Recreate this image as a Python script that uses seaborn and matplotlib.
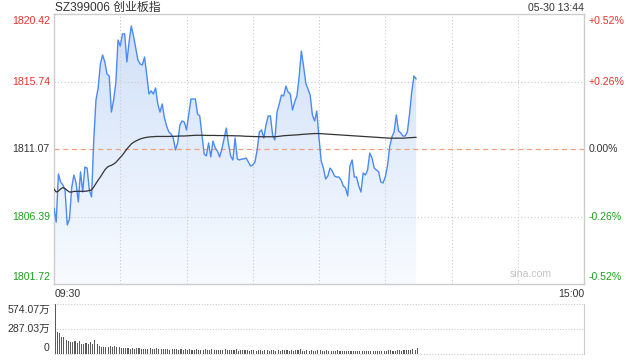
import numpy as np
import pandas as pd
import seaborn as sns
import matplotlib
matplotlib.use("Agg")
import matplotlib.pyplot as plt
from matplotlib.colors import LinearSegmentedColormap

# price (per minute from 09:30), average price and volume (万)
price = [1806.98, 1806.01, 1809.34, 1808.78, 1808.58, 1808.23, 1805.81, 1806.22, 1808.37, 1809.27,
         1808.72, 1807.40, 1809.48, 1808.09, 1809.82, 1809.75, 1808.23, 1807.75, 1811.69, 1814.46,
         1815.30, 1816.96, 1817.58, 1817.10, 1816.26, 1816.13, 1813.63, 1814.46, 1815.64, 1818.62,
         1818.20, 1819.04, 1819.04, 1817.10, 1818.48, 1819.59, 1818.90, 1818.07, 1817.23, 1816.96,
         1816.89, 1817.44, 1816.20, 1814.88, 1815.09, 1814.88, 1815.30, 1814.19, 1813.63, 1814.19,
         1813.22, 1812.66, 1812.25, 1812.11, 1811.83, 1811.00, 1811.49, 1812.73, 1813.01, 1812.94,
         1812.39, 1813.43, 1814.53, 1814.53, 1814.53, 1813.49, 1813.36, 1812.04, 1810.72, 1810.59,
         1811.49, 1810.52, 1811.62, 1811.14, 1810.93, 1810.52, 1811.07, 1811.76, 1812.52, 1811.42,
         1810.59, 1810.31, 1811.83, 1810.38, 1810.31, 1810.38, 1810.38, 1810.45, 1810.17, 1809.89,
         1809.96, 1810.17, 1811.00, 1812.25, 1812.39, 1811.83, 1812.73, 1813.36, 1813.36, 1812.04,
         1811.69, 1813.63, 1814.19, 1814.81, 1814.74, 1815.43, 1815.02, 1814.88, 1813.77, 1814.33,
         1814.74, 1816.06, 1817.86, 1816.82, 1815.64, 1815.23, 1814.81, 1813.43, 1813.01, 1813.70,
         1811.83, 1810.24, 1809.75, 1808.99, 1809.20, 1809.75, 1809.55, 1809.20, 1809.13, 1809.13,
         1808.92, 1808.51, 1808.37, 1807.82, 1809.89, 1810.31, 1809.13, 1809.13, 1808.51, 1808.09,
         1809.41, 1809.27, 1809.62, 1810.79, 1810.45, 1809.75, 1809.62, 1809.48, 1808.78, 1808.72,
         1809.13, 1809.89, 1811.21, 1811.90, 1812.25, 1813.43, 1812.32, 1812.18, 1811.97, 1811.97,
         1812.25, 1813.49, 1815.02, 1816.13, 1815.92]

avg_price = [1808.30, 1808.09, 1808.16, 1808.30, 1808.40, 1808.33, 1808.20, 1808.09, 1808.09, 1808.13,
             1808.14, 1808.14, 1808.14, 1808.14, 1808.14, 1808.16, 1808.20, 1808.23, 1808.44, 1808.68,
             1808.92, 1809.13, 1809.37, 1809.62, 1809.79, 1809.89, 1809.94, 1810.03, 1810.14, 1810.31,
             1810.48, 1810.65, 1810.86, 1811.07, 1811.24, 1811.42, 1811.53, 1811.62, 1811.69, 1811.76,
             1811.81, 1811.85, 1811.88, 1811.90, 1811.92, 1811.92, 1811.94, 1811.94, 1811.94, 1811.94,
             1811.94, 1811.94, 1811.94, 1811.95, 1811.95, 1811.95, 1811.96, 1811.97, 1811.97, 1811.97,
             1811.98, 1811.99, 1812.00, 1812.01, 1812.02, 1812.02, 1812.02, 1812.02, 1812.02, 1812.01,
             1812.01, 1812.01, 1812.01, 1812.01, 1812.00, 1812.00, 1812.00, 1812.00, 1812.00, 1811.99,
             1811.99, 1811.99, 1811.98, 1811.98, 1811.98, 1811.97, 1811.96, 1811.95, 1811.95, 1811.94,
             1811.94, 1811.93, 1811.93, 1811.92, 1811.92, 1811.92, 1811.92, 1811.92, 1811.92, 1811.92,
             1811.92, 1811.93, 1811.95, 1811.97, 1811.99, 1812.00, 1812.01, 1812.02, 1812.03, 1812.04,
             1812.05, 1812.06, 1812.08, 1812.09, 1812.10, 1812.11, 1812.12, 1812.13, 1812.14, 1812.14,
             1812.14, 1812.13, 1812.12, 1812.11, 1812.10, 1812.09, 1812.08, 1812.07, 1812.06, 1812.05,
             1812.04, 1812.03, 1812.02, 1812.01, 1812.00, 1811.99, 1811.98, 1811.97, 1811.96, 1811.95,
             1811.94, 1811.93, 1811.92, 1811.91, 1811.90, 1811.89, 1811.88, 1811.87, 1811.86, 1811.85,
             1811.84, 1811.83, 1811.82, 1811.82, 1811.82, 1811.82, 1811.82, 1811.82, 1811.82, 1811.83,
             1811.84, 1811.85, 1811.86, 1811.87, 1811.88]

volume = [574.07, 256, 245, 192, 198, 160, 146, 138, 140, 146,
          128, 146, 118, 112, 125, 120, 135, 110, 160, 118,
          92, 85, 84, 80, 84, 92, 78, 96, 80, 84,
          70, 74, 66, 72, 62, 70, 60, 64, 66, 58,
          62, 60, 56, 64, 60, 58, 66, 54, 58, 52,
          60, 54, 50, 56, 52, 62, 48, 54, 50, 56,
          48, 52, 46, 50, 56, 44, 50, 46, 52, 48,
          44, 54, 46, 42, 50, 44, 48, 58, 46, 42,
          44, 48, 52, 40, 46, 42, 48, 44, 40, 46,
          42, 38, 44, 48, 40, 44, 50, 38, 42, 46,
          40, 44, 38, 46, 50, 42, 40, 44, 36, 42,
          46, 52, 40, 38, 44, 36, 42, 40, 38, 44,
          46, 40, 36, 42, 38, 34, 40, 36, 42, 38,
          34, 38, 36, 32, 40, 36, 34, 30, 38, 34,
          32, 36, 40, 34, 38, 32, 36, 40, 34, 38,
          36, 42, 46, 40, 38, 44, 48, 36, 42, 46,
          50, 44, 58, 48, 72]

price_ticks = [1820.42, 1815.74, 1811.07, 1806.39, 1801.72]
pct_ticks = ["+0.52%", "+0.26%", "0.00%", "-0.26%", "-0.52%"]
vol_ticks = [574.07, 287.03, 0]
vol_labels = ["574.07万", "287.03万", "0"]
prev_close = 1811.07

df = pd.DataFrame({"minute": np.arange(len(price)), "price": price,
                   "avg": avg_price, "vol": volume})
df["bar_x"] = df["minute"] + 0.5

RED, GREEN, DARK = "#e8312b", "#1e9e1e", "#333333"
GRID = "#cccccc"

sns.set_style("white")
plt.rcParams["font.family"] = ["Liberation Sans", "Noto Sans CJK SC"]

fig = plt.figure(figsize=(6.4, 3.6), dpi=100)
ax = fig.add_axes([54 / 640, 76 / 360, 530 / 640, 270 / 360])
axv = fig.add_axes([54 / 640, 6 / 360, 530 / 640, 50 / 360])

lo, hi = price_ticks[-1], price_ticks[0]

# gradient fill under the price line
poly = ax.fill_between(df["minute"], df["price"], lo, facecolor="none", edgecolor="none")
cmap = LinearSegmentedColormap.from_list("fill", ["#f8fbff", "#cfdff8"])
grad = np.linspace(0, 1, 256).reshape(-1, 1)
im = ax.imshow(grad, extent=[0, 240, lo, hi], origin="lower", aspect="auto",
               cmap=cmap, zorder=1)
im.set_clip_path(poly.get_paths()[0], transform=ax.transData)

for m in range(30, 240, 30):
    ax.axvline(m, color=GRID, lw=0.8, ls=(0, (1, 2)), zorder=2)
for p in (price_ticks[1], price_ticks[3]):
    ax.axhline(p, color=GRID, lw=0.8, ls=(0, (1, 2)), zorder=2)
ax.axhline(prev_close, color="#f0a07a", lw=0.9, ls=(0, (4, 3)), zorder=2)

sns.lineplot(data=df, x="minute", y="price", ax=ax, color="#4a8af4", linewidth=1.0, zorder=3)
sns.lineplot(data=df, x="minute", y="avg", ax=ax, color=DARK, linewidth=0.9, zorder=4)

ax.set_xlim(0, 240)
ax.set_ylim(lo, hi)
ax.set_xticks([])
ax.set_yticks([])
ax.set_xlabel("")
ax.set_ylabel("")
for s in ax.spines.values():
    s.set_color(GRID)
    s.set_linewidth(1)

label_colors = [RED, RED, DARK, GREEN, GREEN]
for i, (p, pc, c) in enumerate(zip(price_ticks, pct_ticks, label_colors)):
    va = "top" if i == 0 else ("bottom" if i == len(price_ticks) - 1 else "center")
    dy = -1.5 if i == 0 else (1.5 if i == len(price_ticks) - 1 else 0)
    ax.annotate(f"{p:.2f}", xy=(0, p), xycoords=("axes fraction", "data"),
                xytext=(-3, dy), textcoords="offset points", ha="right", va=va,
                color=c, fontsize=7.6)
    ax.annotate(pc, xy=(1, p), xycoords=("axes fraction", "data"),
                xytext=(3.5, dy), textcoords="offset points", ha="left", va=va,
                color=c, fontsize=7.6)

ax.text(0.94, 0.02, "sina.com", transform=ax.transAxes, ha="right", va="bottom",
        color="#c4c4c4", fontsize=7.6)

fig.text(55 / 640, 1 - 8 / 360, "SZ399006 创业板指", ha="left", va="center",
         color=DARK, fontsize=8.6)
fig.text(584 / 640, 1 - 8 / 360, "05-30 13:44", ha="right", va="center",
         color=DARK, fontsize=7.6)
fig.text(55 / 640, 1 - 294 / 360, "09:30", ha="left", va="center", color=DARK, fontsize=7.6)
fig.text(584 / 640, 1 - 294 / 360, "15:00", ha="right", va="center", color=DARK, fontsize=7.6)

# volume panel
sns.barplot(data=df, x="bar_x", y="vol", ax=axv, native_scale=True, color="#5a5a5a",
            width=0.5, errorbar=None, linewidth=0, saturation=1)
axv.set_xlim(0, 240)
axv.set_ylim(0, vol_ticks[0])
axv.set_xticks([])
axv.set_yticks([])
axv.set_xlabel("")
axv.set_ylabel("")
for k in ("left", "top", "bottom"):
    axv.spines[k].set_visible(False)
axv.spines["right"].set_color(GRID)
for v in vol_ticks:
    axv.axhline(v, color=GRID, lw=0.8, ls=(0, (1, 1.5)), clip_on=False, zorder=0)
for i, (v, t) in enumerate(zip(vol_ticks, vol_labels)):
    va = "top" if i == 0 else ("bottom" if i == len(vol_ticks) - 1 else "center")
    dy = -1 if i == 0 else (1 if i == len(vol_ticks) - 1 else 0)
    axv.annotate(t, xy=(0, v), xycoords=("axes fraction", "data"),
                 xytext=(-3, dy), textcoords="offset points", ha="right", va=va,
                 color=DARK, fontsize=7.6)

fig.savefig("out.png", dpi=100)
